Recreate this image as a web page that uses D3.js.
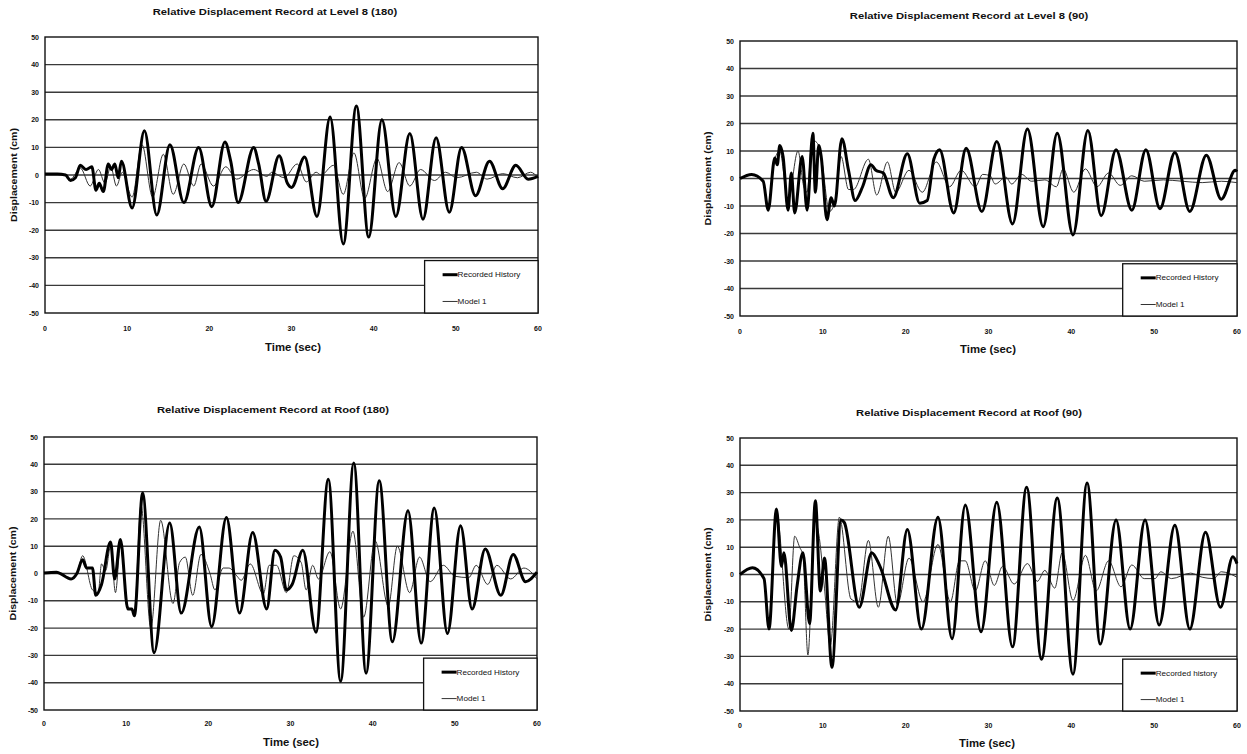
<!DOCTYPE html>
<html>
<head>
<meta charset="utf-8">
<script src="https://cdn.jsdelivr.net/npm/d3@7"></script>
<style>
  body { margin: 0; background: #fff; }
  svg { display: block; font-family: "Liberation Sans", Arial, sans-serif; }
  text { font-weight: bold; fill: #111; }
</style>
</head>
<body>
<svg id="chart" width="1247" height="754"></svg>
<script>
// x ticks (sec) and y ticks (cm)
const timeTicks = [0, 10, 20, 30, 40, 50, 60];
const dispTicks = [-50, -40, -30, -20, -10, 0, 10, 20, 30, 40, 50];

// Level 8 (180) - [time, displacement]
const level8_180_recorded = [
	[0, 0.4], [1.5, 0.4], [2.5, 0], [3.1, -2], [3.7, -1], [4.3, 3.5], [5, 2], [5.7, 3],
	[6.2, -5.5], [6.6, -3], [7.1, -6], [7.7, 4], [8.1, 2], [8.5, 4], [8.9, -1],
	[9.3, 5], [10.6, -12], [12.1, 16], [13.6, -14.5], [15.2, 11], [16.9, -10],
	[18.7, 10], [20.3, -11.5], [21.9, 12], [22.6, 5], [23.5, -10], [25.4, 10],
	[26, 4], [26.9, -9.5], [28.5, 7], [29.5, -3], [30, -4.5], [31.6, 6.5],
	[33.1, -15], [34.7, 21], [36.3, -25], [37.9, 25], [39.4, -22.5], [41, 20],
	[42.7, -15], [44.4, 15], [46, -16], [47.6, 13.5], [49.2, -13.5], [50.7, 10],
	[52.4, -7.5], [54.1, 5], [55.7, -5], [57.3, 3.5], [58.8, -1.5], [60, -0.5]
];
const level8_180_model = [
	[0, 0.4], [2.5, 0], [3.1, -1.5], [4.3, 2.5], [5.5, -4], [6.5, 2], [7.3, -3],
	[8, 3], [8.7, -4], [9.4, 1], [10.6, -8], [11.8, 11], [13.1, -8], [14.4, 7.5],
	[15.6, -7], [16.9, 4], [18.1, -4], [19, 4], [20.5, -4], [22, 3], [23.3, -1.5],
	[25.4, 2], [27, -0.5], [27.6, 1], [29.1, -1], [30.7, 4], [31.8, -2.5], [33, 1],
	[33.6, 0], [35.1, 3.5], [36.3, -7], [37.6, 8], [38.9, -8.5], [40.4, 6],
	[41.7, -6], [43.1, 4.5], [44.4, -4], [45.7, 2], [47.4, -2], [48.75, 1],
	[50.1, -1], [52.5, 1], [53.8, -1.5], [55.7, 0.5], [57.5, -1], [59.1, 1], [60, -1]
];

// Level 8 (90)
const level8_90_recorded = [
	[0, 0], [1.4, 1.5], [2.8, -1], [3.4, -11.5], [4.2, 7.5], [4.5, 5], [4.8, 12],
	[5.2, 8], [5.8, -11.5], [6.2, 2], [6.6, -12.5], [7.5, 8], [8.1, -11.5],
	[8.8, 16.5], [9.1, -5], [9.5, 12], [9.8, 8], [10.5, -15], [11, -7], [11.4, -10],
	[12.3, 14.5], [13.1, 3], [13.9, -8], [14.8, -3], [15.8, 5], [16.4, 3], [17.3, 2],
	[18.5, -7], [20.2, 9], [21.7, -9], [22.6, -8], [23.4, 7], [24.1, 10.5],
	[25.8, -12.5], [27.3, 11], [29.2, -12], [31, 13.5], [32.9, -16.5], [34.7, 18],
	[36.6, -17.5], [38.3, 16.5], [40.2, -20.5], [42, 17.5], [43.6, -13.5],
	[45.4, 10.5], [47.3, -11.5], [49, 10.5], [50.7, -11], [52.5, 9.5], [54.3, -12],
	[56.3, 8.5], [58.1, -7.5], [59.8, 3], [60, 2.5]
];
const level8_90_model = [
	[0, 0], [1.4, 1.5], [2.8, -1], [3.4, -10], [4.2, 7], [4.8, 10], [5.8, -8],
	[7, 10], [7.7, -3], [8.1, -5], [8.7, 14], [9.3, 13], [9.8, 8], [10.8, -12],
	[11.5, -8], [12.2, 8], [13.1, -4], [13.7, -4], [15.5, 7], [16.5, -6], [17.8, 6],
	[18.8, -5], [20.4, 3], [22, -5], [23.7, 6], [25.3, -3], [26.7, 3], [28.4, -3],
	[29.3, 1.5], [30.2, 1], [30.8, -2], [32.1, 0.5], [32.8, -2], [34, 1.5],
	[35.2, -1], [36.8, -0.5], [38.2, -3], [39, 3.5], [40.3, -5], [41.7, 3.5],
	[43.1, -3], [44.5, 2], [45.9, -2.5], [47.3, 1], [48.8, -1], [51.1, -0.5],
	[53.4, -1], [55.8, -1.5], [58.1, -1], [60, -1.5]
];

// Roof (180)
const roof_180_recorded = [
	[0, 0.2], [1.5, 0.5], [3.3, -2], [4, 0], [4.7, 5], [5.2, 2], [5.9, 2],
	[6.3, -8], [7, -4], [8.1, 11.5], [8.6, -2], [9.3, 12.5], [10.2, -13],
	[10.7, -13], [11, -15.5], [12, 29.5], [13.4, -29], [15.3, 18.5], [16.7, -14.5],
	[18.9, 17], [20.4, -19.5], [22.2, 20.5], [23.8, -14.5], [25.4, 15], [27.1, -13],
	[28.1, 8.5], [28.8, 6], [29.5, -6], [30.2, -4], [31.5, 8.5], [33.1, -21.5],
	[34.6, 34.5], [36.1, -39.5], [37.7, 40.5], [39.2, -36.5], [40.8, 34],
	[42.4, -25], [44.3, 23], [45.9, -25.5], [47.5, 24], [49.1, -22], [50.7, 17.5],
	[52.1, -13], [53.7, 9], [55.6, -8], [57.1, 7], [58.6, -3], [60, 0.5]
];
const roof_180_model = [
	[0, 0.2], [1.5, 0.5], [3.3, -2], [4, 0], [4.7, 6.5], [5.9, -6], [6.6, -7],
	[7, 3.5], [7.5, 1], [8.1, 10], [8.7, -7], [9.3, 10], [10.2, -12], [11, -14],
	[11.8, 25], [13, -20], [14.2, 19.5], [15.7, -11], [16.5, 4], [17.2, 6],
	[18.1, -8], [19.1, 7], [20.2, 0], [20.8, -6], [21.8, 2], [22.5, 2], [23.5, -1],
	[24, -2.5], [25.1, 3.5], [26.7, -7.5], [27.4, 3], [28.3, 3], [29.5, -7],
	[30.4, 6.5], [31.3, 4], [31.9, -6], [32.7, 3], [33.4, -2], [34.8, 8],
	[36.1, -13], [37.6, 15.5], [38.9, -16], [40.3, 12], [41.9, -12], [43, 10],
	[44.5, -7], [45.7, 6], [47, -3], [48.6, 3], [50, -1], [51.7, -1.5], [52.6, 3],
	[54, -4], [55.1, 3], [56.8, -2], [58.4, 2], [60, -2]
];

// Roof (90)
const roof_90_recorded = [
	[0, 0], [1.5, 2.5], [2.9, -1.5], [3.5, -20], [4.4, 24], [5, 3], [5.3, 8],
	[6.2, -20.5], [6.9, -4], [7.6, 8], [8.4, -18], [9.1, 27], [9.7, -6], [10.2, 6],
	[11.1, -34], [12.2, 20], [12.6, 19], [14.4, -12], [15.9, 8], [16.9, 3],
	[18.8, -13], [20.2, 16.5], [21.9, -20], [23.9, 21], [25.6, -23.5], [27.2, 25.5],
	[29.1, -21], [31, 26.5], [32.9, -26.5], [34.6, 32], [36.4, -31], [38.3, 28],
	[40.2, -36.5], [41.9, 33.5], [43.5, -25.5], [45.4, 20], [47.1, -20], [48.9, 20],
	[50.6, -18.5], [52.5, 18], [54.3, -20], [56.2, 15.5], [58, -12], [59.5, 6.5],
	[60, 4]
];
const roof_90_model = [
	[0, 0], [1.5, 2.5], [2.9, -1.5], [3.5, -20], [4.4, 23], [5.9, -20], [6.6, 14],
	[7.2, 10], [7.6, 7], [8.2, -29.5], [9, 20], [9.5, 15], [10.2, -5], [10.9, -26],
	[12, 21], [13.4, -9], [14.3, -10], [15.5, 12.5], [16.7, -12], [17.9, 14],
	[19, -11], [20.4, 6], [22.1, -10], [23.9, 11], [25.4, -10], [26.5, 5],
	[27.2, 5], [28.4, -6], [29.6, 5], [30.7, -4], [31.7, 3], [33.1, -3.5],
	[34.7, 4], [35.9, -2.5], [36.8, 1.5], [38, -5], [38.9, 8], [40.2, -9.5],
	[41.7, 7], [43, -6], [44.5, 5], [46, -4.5], [47.3, 3.5], [48.8, -1.5],
	[50.1, -1.5], [50.8, 1], [52.1, -1.5], [54.4, 0.5], [55.8, -1], [57.2, -1.5],
	[58.1, 1], [60, -1]
];

const svg = d3.select("#chart");

const panels = [
	{
		title: "Relative Displacement Record at Level 8 (180)",
		recorded: level8_180_recorded, model: level8_180_model,
		legendRecorded: "Recorded History",
		left: 45, right: 538, top: 37, bottom: 313,
		titleX: 275, titleY: 15, tickY: 331, axisTitleX: 293, axisTitleY: 351, yTitleX: 17
	},
	{
		title: "Relative Displacement Record at Level 8 (90)",
		recorded: level8_90_recorded, model: level8_90_model,
		legendRecorded: "Recorded History",
		left: 740, right: 1237, top: 41, bottom: 316,
		titleX: 969, titleY: 19, tickY: 334, axisTitleX: 988, axisTitleY: 353, yTitleX: 711
	},
	{
		title: "Relative Displacement Record at Roof (180)",
		recorded: roof_180_recorded, model: roof_180_model,
		legendRecorded: "Recorded History",
		left: 44, right: 537, top: 437, bottom: 710,
		titleX: 273, titleY: 413, tickY: 726, axisTitleX: 291, axisTitleY: 746, yTitleX: 16
	},
	{
		title: "Relative Displacement Record at Roof (90)",
		recorded: roof_90_recorded, model: roof_90_model,
		legendRecorded: "Recorded history",
		left: 740, right: 1237, top: 438, bottom: 711,
		titleX: 969, titleY: 416, tickY: 728, axisTitleX: 987, axisTitleY: 747, yTitleX: 711
	}
];

// stretch text to the width it has in the scanned figure
const fitText = (sel, k) => {
	const node = sel.node();
	const w = node.getComputedTextLength();
	sel.attr("textLength", w * k).attr("lengthAdjust", "spacingAndGlyphs");
};

panels.forEach((p) => {
	const x = d3.scaleLinear().domain([0, 60]).range([p.left, p.right]);
	const y = d3.scaleLinear().domain([-50, 50]).range([p.bottom, p.top]);
	const g = svg.append("g");

	// title
	const title = g.append("text")
		.attr("x", p.titleX)
		.attr("y", p.titleY)
		.attr("text-anchor", "middle")
		.style("font-size", "9.6px")
		.text(p.title);
	fitText(title, 1.17);

	// horizontal grid lines
	g.selectAll("line.grid")
		.data(dispTicks.filter((d) => d > -50 && d < 50))
		.enter()
		.append("line")
		.attr("class", "grid")
		.attr("x1", p.left)
		.attr("x2", p.right)
		.attr("y1", (d) => y(d))
		.attr("y2", (d) => y(d))
		.style("stroke", "#3a3a3a")
		.style("stroke-width", 1.4);

	// plot border
	g.append("rect")
		.attr("x", p.left)
		.attr("y", p.top)
		.attr("width", p.right - p.left)
		.attr("height", p.bottom - p.top)
		.style("fill", "none")
		.style("stroke", "#111")
		.style("stroke-width", 1.4);

	// y tick labels
	g.selectAll("text.ytick")
		.data(dispTicks)
		.enter()
		.append("text")
		.attr("class", "ytick")
		.attr("x", p.left - 6)
		.attr("y", (d) => y(d) + 2.6)
		.attr("text-anchor", "end")
		.style("font-size", "7px")
		.text((d) => String(d));

	// x tick labels
	g.selectAll("text.xtick")
		.data(timeTicks)
		.enter()
		.append("text")
		.attr("class", "xtick")
		.attr("x", (d) => x(d))
		.attr("y", p.tickY)
		.attr("text-anchor", "middle")
		.style("font-size", "7px")
		.text((d) => String(d));

	// axis titles
	const tTitle = g.append("text")
		.attr("x", p.axisTitleX)
		.attr("y", p.axisTitleY)
		.attr("text-anchor", "middle")
		.style("font-size", "10.5px")
		.text("Time (sec)");
	fitText(tTitle, 1.08);

	const midY = (p.top + p.bottom) / 2;
	const yTitle = g.append("text")
		.attr("transform", `translate(${p.yTitleX},${midY}) rotate(-90)`)
		.attr("text-anchor", "middle")
		.style("font-size", "9.6px")
		.text("Displacement (cm)");
	fitText(yTitle, 1.1);

	const line = d3
		.line()
		.x((d) => x(d[0]))
		.y((d) => y(d[1]))
		.curve(d3.curveMonotoneX);

	// model (thin) first, recorded (thick) on top
	g.append("path")
		.datum(p.model)
		.attr("d", line)
		.style("fill", "none")
		.style("stroke", "#333")
		.style("stroke-width", 1);

	g.append("path")
		.datum(p.recorded)
		.attr("d", line)
		.style("fill", "none")
		.style("stroke", "#000")
		.style("stroke-width", 3)
		.style("stroke-linejoin", "round");

	// legend box in the lower right
	const lx = x(46.2);
	const ly = y(-31);
	const lw = p.right - lx;
	const lh = p.bottom - ly;
	const legend = g.append("g");
	legend.append("rect")
		.attr("x", lx)
		.attr("y", ly)
		.attr("width", lw)
		.attr("height", lh)
		.style("fill", "#fff")
		.style("stroke", "#111")
		.style("stroke-width", 1.3);

	const rows = [
		{ label: p.legendRecorded, width: 3, color: "#000", dy: 0.27 },
		{ label: "Model 1", width: 1, color: "#333", dy: 0.78 }
	];
	rows.forEach((r) => {
		const ry = ly + lh * r.dy;
		legend.append("line")
			.attr("x1", lx + 18)
			.attr("x2", lx + 33)
			.attr("y1", ry)
			.attr("y2", ry)
			.style("stroke", r.color)
			.style("stroke-width", r.width);
		const t = legend.append("text")
			.attr("x", lx + 33)
			.attr("y", ry + 2.6)
			.style("font-size", "7.4px")
			.style("font-weight", "normal")
			.text(r.label);
		fitText(t, 1.1);
	});
});
</script>
</body>
</html>
